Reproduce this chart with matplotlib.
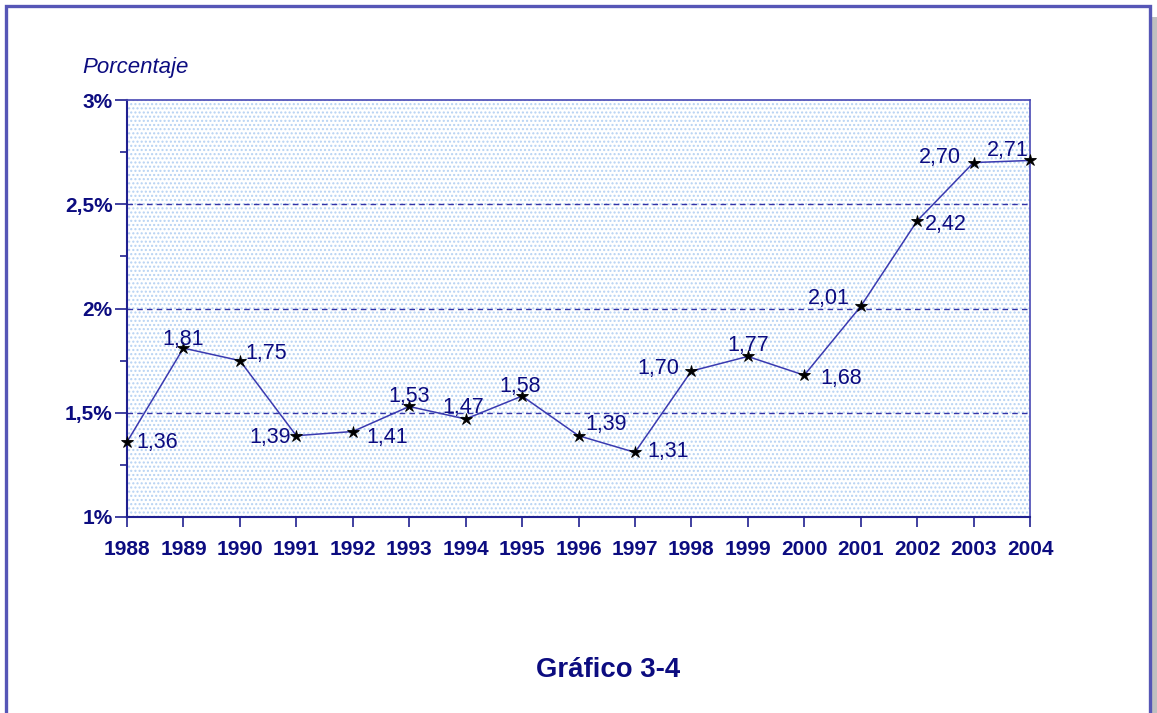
import matplotlib
matplotlib.use("Agg")
import matplotlib.pyplot as plt
from matplotlib.patches import Rectangle

years = [1988, 1989, 1990, 1991, 1992, 1993, 1994, 1995, 1996, 1997,
         1998, 1999, 2000, 2001, 2002, 2003, 2004]
values = [1.36, 1.81, 1.75, 1.39, 1.41, 1.53, 1.47, 1.58, 1.39, 1.31,
          1.70, 1.77, 1.68, 2.01, 2.42, 2.70, 2.71]
labels = ["1,36", "1,81", "1,75", "1,39", "1,41", "1,53", "1,47", "1,58", "1,39",
          "1,31", "1,70", "1,77", "1,68", "2,01", "2,42", "2,70", "2,71"]
ytick_vals = [1, 1.5, 2, 2.5, 3]
ytick_labels = ["1%", "1,5%", "2%", "2,5%", "3%"]
title_text = "Gráfico 3-4"
ylabel_text = "Porcentaje"

# label offsets in pixels (dx right, dy up), centre-aligned
offsets_px = [(30, -1), (0, 9), (26, 7), (-26, -2), (34, -6), (0, 10), (-2, 12),
              (-2, 10), (28, 11), (33, 1), (-33, 3), (0, 11), (37, -3), (-32, 8),
              (29, -4), (-34, 5), (-22, 10)]

plt.rcParams['font.family'] = ['Liberation Sans', 'DejaVu Sans']
plt.rcParams['hatch.linewidth'] = 1.0
NAVY = '#0c0c80'
LINE = '#3a3ab0'

W, H = 1157, 713
fig = plt.figure(figsize=(W / 100, H / 100), dpi=100)
fig.patch.set_facecolor('white')

# outer frame with shadow
fig.patches.append(Rectangle((1151 / W, -0.1), 8 / W, 1.1 - 17 / H,
                             transform=fig.transFigure, facecolor='#c0c0c0',
                             edgecolor='none', zorder=0))
fig.patches.append(Rectangle((6 / W, -0.1), (1150 - 6) / W, 1.1 - 6 / H,
                             transform=fig.transFigure, facecolor='none',
                             edgecolor='#5656b6', linewidth=2.4, zorder=1))

ax = fig.add_axes([127 / W, 1 - 517 / H, (1030 - 127) / W, (517 - 100) / H])
ax.set_facecolor('white')
ax.add_patch(Rectangle((0, 0), 1, 1, transform=ax.transAxes, facecolor='white',
                       edgecolor='#b6d2f3', hatch='....', linewidth=0, zorder=0))

ax.set_xlim(years[0], years[-1])
ax.set_ylim(1, 3)

for g in [1.5, 2, 2.5]:
    ax.axhline(g, color='#3434a8', linewidth=1.0, linestyle=(0, (4, 3)), zorder=1)

ax.plot(years, values, color=LINE, linewidth=1.1, zorder=3)
ax.plot(years, values, linestyle='none', marker='*', markersize=9,
        color='black', markeredgewidth=0.6, zorder=4, clip_on=False)

for x, v, lab, (dx, dy) in zip(years, values, labels, offsets_px):
    ax.annotate(lab, (x, v), xytext=(dx * 0.72, dy * 0.72), textcoords='offset points',
                ha='center', va='center', fontsize=15.5, color=NAVY, zorder=5)

ax.set_xticks(years)
ax.set_xticklabels([str(y) for y in years], fontsize=15, fontweight='bold', color=NAVY)
ax.set_yticks(ytick_vals)
ax.set_yticklabels(ytick_labels, fontsize=15, fontweight='bold', color=NAVY)
ax.set_yticks([1.25, 1.75, 2.25, 2.75], minor=True)

ax.tick_params(axis='x', which='major', direction='out', length=7.5, width=1.2,
               color='#202090', pad=9)
ax.tick_params(axis='y', which='major', direction='out', length=9, width=1.2,
               color='#202090', pad=1.5)
ax.tick_params(axis='y', which='minor', direction='out', length=5, width=1.2,
               color='#202090')

for s in ['left', 'bottom']:
    ax.spines[s].set_color('#202090')
    ax.spines[s].set_linewidth(1.5)
for s in ['top', 'right']:
    ax.spines[s].set_color('#4848b4')
    ax.spines[s].set_linewidth(1.2)

fig.text(82 / W, 1 - 72.7 / H, ylabel_text, fontsize=16, style='italic',
         color=NAVY, ha='left', va='baseline')
fig.text(608.5 / W, 1 - 677 / H, title_text, fontsize=19.8, fontweight='bold',
         color=NAVY, ha='center', va='baseline')

fig.savefig('out.png', dpi=100)
